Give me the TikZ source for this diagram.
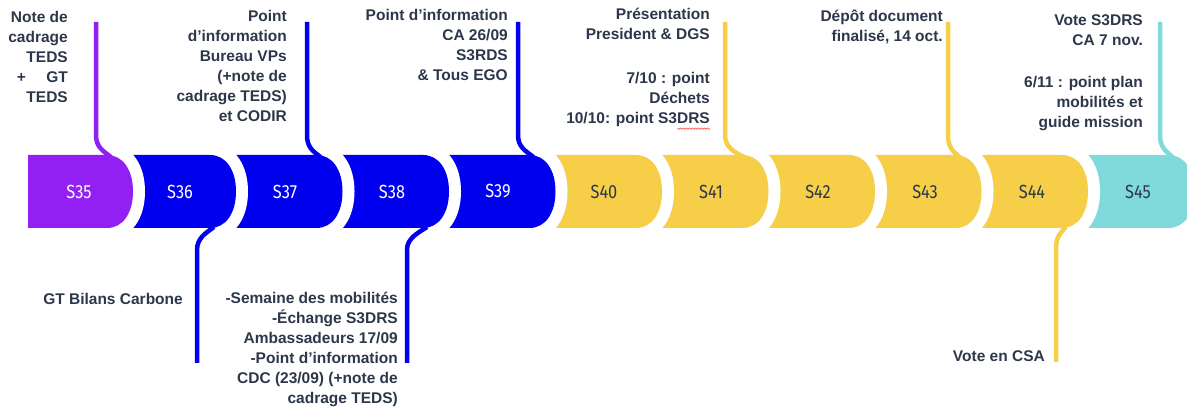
\documentclass[tikz,border=0pt]{standalone}
\usepackage{fontspec}
\setmainfont{Liberation Sans}
\newfontfamily\weekfont[FakeStretch=0.86]{Fira Sans}
\usetikzlibrary{decorations.pathmorphing}
\definecolor{weekpurple}{RGB}{146,32,242}
\definecolor{weekblue}{RGB}{0,0,238}
\definecolor{weekyellow}{RGB}{246,206,72}
\definecolor{weekcyan}{RGB}{128,218,219}
\definecolor{notetext}{RGB}{45,55,75}
\tikzstyle{week} = [font=\weekfont\fontsize{19}{22}\selectfont, inner sep=0pt]
\tikzstyle{note} = [font=\bfseries\fontsize{15.5}{20}\selectfont, text=notetext,
    align=right, anchor=north east, inner sep=0pt]
\tikzstyle{link} = [draw, line width=4.5pt]
\tikzstyle{spell} = [draw=red!75, line width=0.6pt, decorate,
    decoration={snake, amplitude=0.7pt, segment length=3pt}]
% one week of the band: name, left, end of flat top, fill, text colour, label x
\newcommand{\weekseg}[6]{%
  \path[fill=#4, preaction={draw=white, line width=24pt}]
    (#2,155) -- (#3,155)
    .. controls (#3+16,155) and (#3+26,170) .. (#3+26,191.5)
    .. controls (#3+26,213) and (#3+16,228) .. (#3,228)
    -- (#2,228) -- cycle;
  \node[week, text=#5] (#1) at (#6,191.5) {#1};}

\begin{document}
\begin{tikzpicture}[x=1pt, y=-1pt]
        \useasboundingbox (0,0) rectangle (1187,411);

        % Band of weeks, right to left so each bulge covers the next one
        \weekseg{S45}{1062}{1168.5}{weekcyan}{notetext}{1138}
        \weekseg{S44}{955.5}{1062}{weekyellow}{notetext}{1032}
        \weekseg{S43}{849}{955.5}{weekyellow}{notetext}{925}
        \weekseg{S42}{742.5}{849}{weekyellow}{notetext}{818}
        \weekseg{S41}{636}{742.5}{weekyellow}{notetext}{711}
        \weekseg{S40}{529.5}{636}{weekyellow}{notetext}{604}
        \weekseg{S39}{423}{529.5}{weekblue}{white}{498}
        \weekseg{S38}{316.5}{423}{weekblue}{white}{392}
        \weekseg{S37}{210}{316.5}{weekblue}{white}{285}
        \weekseg{S36}{107}{210}{weekblue}{white}{180}
        \weekseg{S35}{28}{107}{weekpurple}{white}{79}

        % Ends of the connectors
        \coordinate (t35) at (96,22);    \coordinate (j35) at (111,157);
        \coordinate (t37) at (307,22);   \coordinate (j37) at (320.5,157);
        \coordinate (t39) at (518,22);   \coordinate (j39) at (533.5,157);
        \coordinate (t41) at (725,22);   \coordinate (j41) at (744,157);
        \coordinate (t43) at (948,22);   \coordinate (j43) at (959.5,157);
        \coordinate (t45) at (1160,22);  \coordinate (j45) at (1172.5,157);
        \coordinate (b36) at (197,363);  \coordinate (k36) at (214,227);
        \coordinate (b38) at (407,363);  \coordinate (k38) at (427,227);
        \coordinate (b44) at (1056,362); \coordinate (k44) at (1066,227);

        % Texts above the band
        \node [note] (n35) at (68,8) {\strut Note de\\cadrage\\TEDS\\\makebox[51pt]{+\hfill GT}\\TEDS};
        \node [note] (n37) at (287,7) {\strut Point\\d’information\\Bureau VPs\\(+note de\\cadrage TEDS)\\et CODIR};
        \node [note] (n39) at (508,6) {\strut Point d’information\\CA 26/09\\S3RDS\\\& Tous EGO};
        \node [note] (n41) at (710,5) {\strut Présentation\\President \& DGS\\[24pt]7/10 : point\\Déchets\\10/10: point S3DRS};
        \node [note] (n43) at (943,7) {\strut Dépôt document\\finalisé, 14 oct.};
        \node [note] (n45) at (1143,11) {\strut Vote S3DRS\\CA 7 nov.\\[22pt]6/11 : point plan\\mobilités et\\guide mission};

        % Texts below the band
        \node [note] (m36) at (183,290) {\strut GT Bilans Carbone};
        \node [note] (m38) at (398,289) {\strut -Semaine des mobilités\\-Échange S3DRS\\Ambassadeurs 17/09\\-Point d’information\\CDC (23/09) (+note de\\cadrage TEDS)};
        \node [note] (m44) at (1045,347) {\strut Vote en CSA};

        % Draw connectors
        \path [link, weekpurple] (t35) -- ++(0,113) .. controls +(0,12) and +(-8,-6) .. (j35);
        \path [link, weekblue] (t37) -- ++(0,113) .. controls +(0,12) and +(-8,-6) .. (j37);
        \path [link, weekblue] (t39) -- ++(0,113) .. controls +(0,12) and +(-8,-6) .. (j39);
        \path [link, weekyellow] (t41) -- ++(0,113) .. controls +(0,12) and +(-10,-5) .. (j41);
        \path [link, weekyellow] (t43) -- ++(0,113) .. controls +(0,12) and +(-7,-6) .. (j43);
        \path [link, weekcyan] (t45) -- ++(0,113) .. controls +(0,12) and +(-7,-6) .. (j45);
        \path [link, weekblue] (b36) -- ++(0,-113) .. controls +(0,-12) and +(-8,6) .. (k36);
        \path [link, weekblue] (b38) -- ++(0,-113) .. controls +(0,-12) and +(-9,6) .. (k38);
        \path [link, weekyellow] (b44) -- ++(0,-113) .. controls +(0,-12) and +(-6,6) .. (k44);

        \path [spell] ([yshift=-2pt]n41.south east) -- ++(-33,0);
\end{tikzpicture}
\end{document}
